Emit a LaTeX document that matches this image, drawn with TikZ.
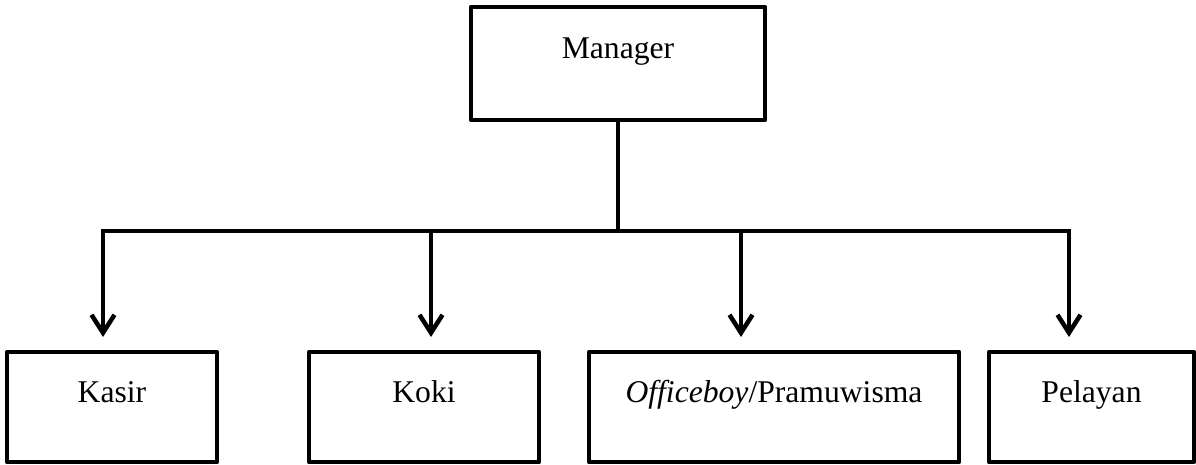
\documentclass[tikz,border=0pt]{standalone}
\usepackage{fontspec}
\setmainfont{Liberation Serif}
\usepackage{tikz}
\usetikzlibrary{arrows.meta,positioning}
\tikzset{
    %Define standard arrow tip
    >={Straight Barb[length=0.36cm,width=0.46cm,line width=0.09cm]},
    %Define style for boxes
    jabatan/.style={
           rectangle,
           draw=black,
           line width=0.085cm,
           line join=round,
           inner sep=0pt,
           outer sep=0pt,
           anchor=north,
           text height=1.02cm,
           text depth=1.18cm,
           font=\fontsize{18}{22}\selectfont,
           text centered},
    % Define line style
    garis/.style={
           line width=0.085cm},
    % Define arrow style
    pil/.style={
           ->,
           line width=0.085cm,
           shorten >=0.3cm}
}
\begin{document}
\begin{tikzpicture}[node distance=1cm]
\useasboundingbox (0,0) rectangle (23.92,9.3);
\node[jabatan, minimum width=5.88cm, text height=1.04cm, text depth=1.22cm] (manager) at (12.36,9.16) {Manager};
\node[jabatan, minimum width=4.2cm] (kasir) at (2.24,2.26) {Kasir};
\node[jabatan, minimum width=4.6cm, below right=0cm and 1.84cm of kasir.north east] (koki) {Koki};
\node[jabatan, minimum width=7.4cm, below right=0cm and 1cm of koki.north east] (office) {\textit{Officeboy}/Pramuwisma};
\node[jabatan, minimum width=4.1cm, below right=0cm and 0.6cm of office.north east] (pelayan) {Pelayan};
% branch points on the bar
\coordinate (b1) at (2.06,4.68);
\coordinate (b2) at (8.62,4.68);
\coordinate (b3) at (14.82,4.68);
\coordinate (b4) at (21.38,4.68);
\draw[garis] (manager.south) -- (manager.south |- b1);
\draw[garis, line cap=rect] (b1) -- (b4);
\draw[pil] (b1) -- (b1 |- kasir.north);
\draw[pil] (b2) -- (b2 |- koki.north);
\draw[pil] (b3) -- (b3 |- office.north);
\draw[pil] (b4) -- (b4 |- pelayan.north);
\end{tikzpicture}
\end{document}
